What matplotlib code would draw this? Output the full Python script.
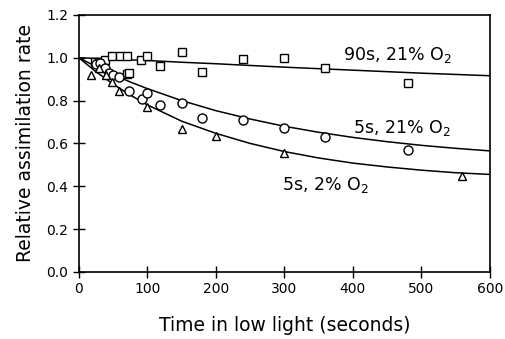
import matplotlib
matplotlib.use("Agg")
import matplotlib.pyplot as plt

plt.rcParams['font.family'] = ['DejaVu Sans']

# 90s, 21% O2 (squares)
sq_t = [24, 30, 38, 49, 60, 70, 70, 74, 91, 99, 118, 150, 180, 240, 300, 360, 480]
sq_y = [0.98, 0.98, 0.99, 1.01, 1.01, 1.01, 0.925, 0.93, 0.99, 1.01, 0.96, 1.025, 0.935, 0.995, 1.0, 0.95, 0.88]

# 5s, 21% O2 (circles)
ci_t = [25, 31, 38, 44, 50, 59, 73, 93, 99, 118, 150, 180, 240, 300, 360, 480]
ci_y = [0.97, 0.975, 0.95, 0.93, 0.92, 0.91, 0.846, 0.807, 0.835, 0.78, 0.79, 0.72, 0.71, 0.674, 0.63, 0.567]

# 5s, 2% O2 (triangles)
tr_t = [18, 30, 40, 48, 59, 99, 150, 200, 300, 560]
tr_y = [0.92, 0.95, 0.92, 0.885, 0.843, 0.77, 0.668, 0.636, 0.557, 0.45]

# fitted curves
fit_t = [0, 25, 50, 75, 100, 150, 200, 250, 300, 350, 400, 450, 500, 550, 600]
fit_90 = [1.0, 0.997, 0.993, 0.990, 0.987, 0.979, 0.972, 0.964, 0.956, 0.949, 0.942, 0.935, 0.928, 0.922, 0.916]
fit_5_21 = [1.0, 0.959, 0.921, 0.887, 0.856, 0.800, 0.753, 0.714, 0.680, 0.652, 0.628, 0.608, 0.591, 0.577, 0.565]
fit_5_2 = [1.0, 0.935, 0.877, 0.826, 0.780, 0.704, 0.647, 0.600, 0.562, 0.532, 0.508, 0.490, 0.475, 0.463, 0.455]

labels = ["90s, 21% O$_2$", "5s, 21% O$_2$", "5s, 2% O$_2$"]

fig = plt.figure(figsize=(5.05, 3.39), dpi=100)
ax = fig.add_axes([0.156, 0.198, 0.814, 0.758])

for fy in (fit_90, fit_5_21, fit_5_2):
    ax.plot(fit_t, fy, color='black', lw=1.1, zorder=2)

ax.plot(sq_t, sq_y, linestyle='none', marker='s', ms=6, mfc='white', mec='black', mew=1.0, zorder=3)
ax.plot(ci_t, ci_y, linestyle='none', marker='o', ms=6.5, mfc='white', mec='black', mew=1.0, zorder=3)
ax.plot(tr_t, tr_y, linestyle='none', marker='^', ms=6, mfc='white', mec='black', mew=1.0, zorder=3)

ax.text(385, 1.014, labels[0], fontsize=12.5, va='center', ha='left')
ax.text(400, 0.67, labels[1], fontsize=12.5, va='center', ha='left')
ax.text(296, 0.405, labels[2], fontsize=12.5, va='center', ha='left')

ax.set_xlim(0, 600)
ax.set_ylim(0, 1.2)
ax.set_xticks([0, 100, 200, 300, 400, 500, 600])
ax.set_yticks([0.0, 0.2, 0.4, 0.6, 0.8, 1.0, 1.2])
ax.set_yticklabels(['0.0', '0.2', '0.4', '0.6', '0.8', '1.0', '1.2'])
ax.tick_params(direction='inout', length=8, width=1.0, labelsize=10, colors='black')
for s in ax.spines.values():
    s.set_linewidth(1.2)

ax.set_xlabel('Time in low light (seconds)', fontsize=13.5, labelpad=14)
ax.set_ylabel('Relative assimilation rate', fontsize=13.5, labelpad=8)

fig.savefig('out.png', dpi=100)
